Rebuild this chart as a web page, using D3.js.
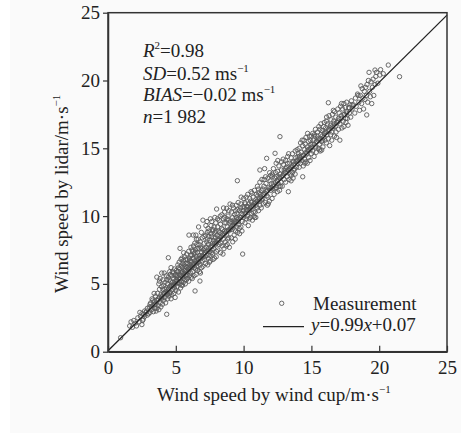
<!DOCTYPE html>
<html>
<head>
<meta charset="utf-8">
<script src="https://cdn.jsdelivr.net/npm/d3@7"></script>
<style>
  html, body { margin: 0; padding: 0; background: #ffffff; }
  svg { display: block; }
  text { font-family: "Liberation Serif", "Times New Roman", "DejaVu Serif", serif; fill: #222; }
</style>
</head>
<body>
<svg id="chart" width="461" height="437"></svg>
<script>
// ---- data ----
const axisTicks = [0, 5, 10, 15, 20, 25];
const fitSlope = 0.99;
const fitIntercept = 0.07;
const stats = { r2: "0.98", sd: "0.52", bias: "−0.02", n: "1 982" };

// [wind cup speed, lidar speed] pairs (m/s)
const measurements = [
[0.93,1.03],[1.6,1.9],[1.7,2.2],[1.8,1.8],[1.9,2.3],[2.0,2.1],[2.1,1.9],[2.2,2.5],
[2.3,2.2],[2.4,2.6],[2.5,2.0],[2.5,2.8],[2.6,2.4],[2.7,3.0],[2.7,2.6],[2.8,2.9],[2.9,2.7],[2.9,3.2],[3.0,2.8],[2.35,2.9],[2.55,2.3],[2.65,2.75],[2.85,3.0],
[3.05,3.3],[3.1,2.9],[3.15,3.6],[3.2,3.1],[3.25,3.9],[3.3,3.4],[3.35,2.95],[3.4,3.7],[3.45,3.2],[3.5,4.1],[3.5,3.5],[3.55,3.0],[3.6,3.8],[3.65,4.3],[3.7,3.4],[3.7,3.9],[3.75,3.1],[3.8,4.0],[3.8,4.6],[3.85,3.6],[3.9,4.2],[3.9,3.3],[3.95,4.8],[3.95,3.9],[3.6,3.2],[3.3,3.8],[3.1,3.5],[3.75,5.0],[3.85,5.4],[3.4,4.3],[3.6,5.5],[3.96,5.8],[3.8,5.2],
[4.0,4.1],[4.02,3.5],[4.05,4.6],[4.1,4.9],[4.1,3.8],[4.15,4.3],[4.2,5.1],[4.2,4.0],[4.25,3.6],[4.3,4.7],[4.3,5.6],[4.33,2.76],[4.35,4.2],[4.4,5.0],[4.4,3.9],[4.45,6.93],[4.45,4.6],[4.5,5.3],[4.5,4.1],[4.55,4.8],[4.55,5.9],[4.6,4.4],[4.6,5.2],[4.65,3.9],[4.65,4.9],[4.7,5.6],[4.7,4.2],[4.75,5.1],[4.75,4.6],[4.8,5.8],[4.8,4.9],[4.85,4.3],[4.85,5.4],[4.9,6.1],[4.9,4.7],[4.95,5.2],[4.95,4.0],[5.0,5.0],[5.0,5.7],[4.05,5.3],[4.15,5.8],[4.25,4.4],[4.35,5.3],[4.45,5.5],[4.55,4.3],[4.65,6.2],[4.75,5.9],[4.85,4.9],[4.95,5.6],[4.6,5.7],[4.4,4.3],[4.2,4.6],
[5.0,4.5],[5.05,5.3],[5.05,6.0],[5.1,4.8],[5.1,5.6],[5.15,6.4],[5.15,5.1],[5.2,4.4],[5.2,5.9],[5.25,5.4],[5.25,6.6],[5.3,5.0],[5.31,7.62],[5.3,6.1],[5.35,5.6],[5.35,4.7],[5.4,6.3],[5.4,5.2],[5.45,5.8],[5.45,6.9],[5.5,5.5],[5.5,4.9],[5.5,6.2],[5.55,6.7],[5.55,5.1],[5.6,5.7],[5.6,6.4],[5.65,5.3],[5.65,7.0],[5.7,6.0],[5.7,5.0],[5.75,6.5],[5.75,5.6],[5.8,6.2],[5.8,7.2],[5.85,5.4],[5.85,6.8],[5.9,5.9],[5.9,6.5],[5.95,5.2],[5.95,7.4],[6.0,6.1],[6.0,5.6],[5.12,5.9],[5.22,6.2],[5.32,5.4],[5.42,4.9],[5.52,6.5],[5.62,6.0],[5.72,6.8],[5.82,5.7],[5.92,6.3],[5.38,6.8],[5.58,7.3],[5.78,5.3],[5.98,6.7],[5.68,6.3],[5.48,5.9],[5.28,5.7],[5.08,5.5],
[6.42,4.48],[6.78,5.21],[5.97,8.6],[6.29,8.6],
[6.0,6.9],[6.05,6.4],[6.1,5.8],[6.1,7.1],[6.15,6.6],[6.15,5.5],[6.2,7.5],[6.2,6.2],[6.25,6.9],[6.25,5.9],[6.3,7.8],[6.3,6.4],[6.35,5.6],[6.35,7.2],[6.4,6.7],[6.4,8.0],[6.45,6.1],[6.45,7.5],[6.5,6.5],[6.5,5.7],[6.5,7.0],[6.55,7.9],[6.55,6.3],[6.6,7.3],[6.6,6.0],[6.65,6.9],[6.65,8.3],[6.7,6.6],[6.7,7.6],[6.75,5.9],[6.75,7.1],[6.8,6.4],[6.8,8.1],[6.85,6.9],[6.85,7.7],[6.9,6.2],[6.9,7.3],[6.95,6.7],[6.95,8.4],[7.0,7.0],[7.0,6.3],[6.12,7.7],[6.22,5.4],[6.32,6.9],[6.42,7.3],[6.52,8.3],[6.62,6.6],[6.72,7.9],[6.82,5.8],[6.92,7.6],[6.18,7.1],[6.38,6.2],[6.58,7.6],[6.78,6.9],[6.88,8.8],[6.48,8.6],[6.68,9.2],[6.28,7.4],[6.08,6.7],
[7.0,9.7],[7.05,7.5],[7.1,6.8],[7.1,8.0],[7.15,7.3],[7.2,8.6],[7.2,6.5],[7.25,7.7],[7.3,9.6],[7.3,7.1],[7.35,8.3],[7.4,6.9],[7.4,7.9],[7.45,8.9],[7.5,7.4],[7.5,8.2],[7.55,6.7],[7.6,7.8],[7.6,9.3],[7.65,8.5],[7.7,7.2],[7.7,8.0],[7.75,9.0],[7.8,7.6],[7.8,8.4],[7.85,6.9],[7.9,8.8],[7.9,7.9],[7.95,9.5],[8.0,8.1],[8.0,7.4],[7.08,8.5],[7.18,7.0],[7.28,8.1],[7.38,9.1],[7.48,6.6],[7.58,8.7],[7.68,7.5],[7.78,8.2],[7.88,9.9],[7.98,7.0],[7.12,7.6],[7.32,8.8],[7.52,7.1],[7.72,8.9],[7.92,8.4],[7.42,8.5],[7.62,7.3],[7.82,9.2],[7.22,9.3],[7.55,9.8],[7.75,6.8],[7.35,6.4],[7.95,8.9],[7.65,9.6],
[8.01,10.52],[8.05,8.6],[8.1,7.5],[8.1,9.2],[8.15,8.2],[8.2,9.7],[8.2,7.9],[8.25,8.8],[8.3,7.3],[8.3,9.4],[8.35,8.5],[8.4,10.1],[8.4,7.8],[8.45,9.0],[8.5,8.3],[8.5,9.8],[8.55,7.6],[8.6,8.9],[8.6,10.3],[8.65,8.1],[8.7,9.5],[8.75,10.57],[8.75,8.6],[8.8,7.9],[8.8,9.2],[8.85,10.0],[8.9,8.4],[8.9,9.7],[8.95,7.7],[9.0,10.89],[9.0,9.0],[8.08,9.8],[8.18,8.5],[8.28,10.0],[8.38,9.1],[8.48,7.2],[8.58,9.5],[8.68,8.8],[8.78,9.8],[8.88,8.9],[8.98,9.5],[8.12,8.9],[8.32,8.0],[8.52,10.6],[8.72,7.8],[8.92,10.4],[8.42,8.7],[8.62,9.9],[8.82,8.3],
[9.05,9.6],[9.1,8.4],[9.1,10.3],[9.15,9.0],[9.2,9.9],[9.2,8.1],[9.25,10.6],[9.3,9.3],[9.3,8.6],[9.35,10.1],[9.4,9.6],[9.4,8.9],[9.45,10.8],[9.5,9.2],[9.5,10.2],[9.54,12.61],[9.55,8.8],[9.6,9.8],[9.6,11.0],[9.65,9.4],[9.7,10.4],[9.7,8.7],[9.75,9.9],[9.8,10.9],[9.8,9.2],[9.85,10.2],[9.9,9.6],[9.93,7.2],[9.95,10.7],[10.0,9.9],[10.0,11.3],[9.08,9.2],[9.18,10.8],[9.28,9.7],[9.38,8.3],[9.48,9.9],[9.58,10.5],[9.68,9.1],[9.78,10.6],[9.88,8.9],[9.98,10.4],[9.22,9.5],[9.42,10.4],[9.62,9.6],[9.82,11.4],
[10.05,10.6],[10.1,9.5],[10.1,11.0],[10.15,10.2],[10.2,11.4],[10.2,9.8],[10.25,10.7],[10.3,10.0],[10.3,11.6],[10.35,9.3],[10.4,10.9],[10.4,10.4],[10.45,11.3],[10.5,9.9],[10.5,10.6],[10.55,11.8],[10.6,10.2],[10.6,11.0],[10.65,9.7],[10.7,11.4],[10.7,10.7],[10.75,10.0],[10.8,11.9],[10.8,10.9],[10.85,10.3],[10.9,11.2],[10.9,9.9],[10.95,11.6],[11.0,10.6],[11.0,11.1],[10.12,10.9],[10.32,10.7],[10.52,11.1],[10.72,10.3],[10.92,10.8],[10.42,9.8],[10.62,11.7],[10.82,9.9],[10.22,10.5],[11.02,12.2],
[11.05,11.5],[11.1,10.4],[11.1,12.0],[11.15,11.1],[11.2,10.8],[11.2,12.5],[11.2,13.4],[11.25,11.6],[11.3,10.6],[11.3,11.9],[11.35,12.7],[11.4,11.3],[11.45,10.9],[11.5,12.2],[11.5,11.6],[11.55,13.5],[11.6,11.0],[11.65,12.4],[11.7,14.26],[11.7,11.8],[11.75,10.8],[11.8,12.8],[11.8,11.4],[11.85,12.1],[11.9,11.1],[11.95,12.6],[12.0,11.9],[12.0,13.0],[11.12,11.7],[11.32,11.2],[11.52,12.7],[11.72,11.5],[11.92,13.2],[11.42,12.0],[11.62,12.9],[11.82,10.9],
[12.05,12.4],[12.1,11.3],[12.1,12.9],[12.15,12.0],[12.2,13.5],[12.2,12.2],[12.25,11.6],[12.3,12.8],[12.32,14.63],[12.35,13.2],[12.4,12.1],[12.4,13.9],[12.45,12.6],[12.5,11.8],[12.5,13.3],[12.55,12.4],[12.6,13.7],[12.6,12.9],[12.65,11.9],[12.68,15.86],[12.7,13.1],[12.75,12.5],[12.8,14.0],[12.8,13.4],[12.85,12.2],[12.9,13.0],[12.95,13.8],[13.0,12.7],[13.0,13.4],[12.12,13.1],[12.32,12.0],[12.52,14.1],[12.72,12.2],[12.92,14.2],[12.42,12.9],[12.62,12.2],
[13.05,13.2],[13.1,12.5],[13.1,14.1],[13.15,13.6],[13.2,12.9],[13.25,14.4],[13.3,11.8],[13.3,13.4],[13.35,12.7],[13.4,13.9],[13.45,13.1],[13.5,14.3],[13.5,12.6],[13.55,13.7],[13.6,14.6],[13.6,13.2],[13.65,12.8],[13.7,14.0],[13.75,13.5],[13.8,14.8],[13.8,13.1],[13.85,14.3],[13.9,13.6],[13.95,14.9],[14.0,13.9],[14.0,14.4],[13.12,13.5],[13.32,14.6],[13.52,13.0],[13.72,13.4],[13.92,14.1],[13.42,13.5],[13.62,14.0],[13.22,13.9],
[14.05,14.6],[14.1,13.6],[14.1,15.0],[14.15,14.2],[14.2,15.4],[14.2,13.9],[14.25,14.7],[14.3,14.1],[14.36,12.9],[14.35,15.2],[14.4,14.5],[14.4,13.7],[14.45,15.6],[14.5,14.9],[14.5,14.2],[14.55,15.3],[14.6,14.0],[14.6,15.8],[14.65,14.6],[14.7,15.1],[14.7,13.9],[14.75,14.8],[14.8,15.5],[14.8,14.3],[14.85,15.9],[14.9,14.9],[14.9,14.1],[14.95,15.3],[15.0,14.6],[15.0,15.9],[14.12,14.4],[14.32,15.6],[14.52,13.9],[14.72,16.1],[14.92,15.6],
[15.05,15.3],[15.1,14.8],[15.1,16.1],[15.15,15.6],[15.2,14.4],[15.25,15.9],[15.3,15.1],[15.3,16.4],[15.35,14.7],[15.4,15.5],[15.45,16.2],[15.5,15.0],[15.5,15.7],[15.55,16.6],[15.6,15.3],[15.65,14.8],[15.7,16.0],[15.7,16.8],[15.75,15.5],[15.76,14.87],[15.8,16.3],[15.85,15.1],[15.9,16.6],[15.9,15.8],[15.95,16.9],[16.0,15.6],[16.0,16.2],[15.22,16.0],[15.42,15.9],[15.62,16.4],[15.82,15.6],[15.6,14.9],
[16.05,16.5],[16.1,15.4],[16.1,17.0],[16.15,16.0],[16.2,16.8],[16.25,18.36],[16.25,15.7],[16.3,17.4],[16.3,16.3],[16.35,15.2],[16.4,16.7],[16.45,17.1],[16.5,16.2],[16.5,15.6],[16.55,17.5],[16.6,16.5],[16.65,17.0],[16.7,15.9],[16.7,17.7],[16.75,16.6],[16.8,17.3],[16.85,15.8],[16.9,16.9],[16.95,17.9],[17.0,16.4],[17.0,17.2],[16.12,17.3],[16.42,16.0],[16.62,17.8],[16.82,16.2],
[17.05,17.6],[17.1,15.6],[17.1,16.8],[17.15,18.1],[17.2,17.2],[17.25,16.5],[17.3,17.9],[17.35,17.0],[17.4,18.3],[17.4,16.6],[17.45,17.5],[17.5,18.0],[17.55,16.9],[17.6,17.7],[17.6,18.4],[17.65,17.2],[17.7,16.7],[17.75,18.0],[17.8,17.6],[17.85,18.2],[17.9,17.3],[17.95,18.5],[18.0,17.9],[17.22,18.3],[17.52,17.2],
[18.1,18.2],[18.2,17.6],[18.25,18.7],[18.3,18.1],[18.4,19.0],[18.5,18.4],[18.55,17.8],[18.6,18.9],[18.7,18.3],[18.75,19.4],[18.8,18.7],[18.85,17.9],[18.9,19.2],[18.95,18.6],[19.0,19.5],[18.65,19.6],[18.45,18.9],
[19.05,18.9],[19.1,19.7],[19.15,18.4],[19.2,20.0],[19.3,19.2],[19.35,18.8],[19.4,19.9],[19.5,19.5],[19.55,20.1],[19.6,18.9],[19.7,19.7],[19.69,20.77],[19.75,20.3],[19.8,20.6],[19.9,19.8],[20.05,20.4],[20.1,20.8],[20.3,20.5],[20.67,21.14],[21.5,20.28],[19.08,17.46],[19.45,18.3],[19.25,20.6],
// core points close to the fit line
[3.2,3.3],[3.45,3.5],[3.7,3.8],[3.95,4.0],[4.1,4.3],[4.3,4.4],[4.5,4.7],[4.7,4.8],[4.9,5.0],[5.1,5.2],[5.3,5.4],[5.45,5.6],[5.6,5.8],[5.75,5.9],[5.9,6.1],[6.05,6.2],[6.2,6.3],[6.35,6.5],[6.5,6.6],[6.65,6.8],[6.8,6.9],[6.95,7.1],[7.1,7.2],[7.25,7.4],[7.4,7.5],[7.55,7.7],[7.7,7.8],[7.85,8.0],[8.0,8.0],[8.15,8.3],[8.3,8.4],[8.45,8.6],[8.6,8.7],[8.75,8.9],[8.9,9.0],[9.05,9.1],[9.2,9.3],[9.35,9.5],[9.5,9.6],[9.65,9.8],[9.8,9.9],[9.95,10.1],[10.1,10.2],[10.25,10.4],[10.4,10.5],[10.55,10.7],[10.7,10.8],[10.85,11.0],[11.0,11.1],[11.15,11.3],[11.3,11.4],[11.45,11.6],[11.6,11.7],[11.75,11.9],[11.9,12.0],[12.05,12.1],[12.2,12.3],[12.35,12.5],[12.5,12.6],[12.65,12.8],[12.8,12.9],[12.95,13.1],[13.1,13.2],[13.25,13.4],[13.4,13.5],[13.55,13.6],[13.7,13.8],[13.85,14.0],[14.0,14.1],[14.15,14.3],[14.3,14.4],[14.45,14.5],[14.6,14.7],[14.75,14.9],[14.9,15.0],[15.05,15.1],[15.2,15.3],[15.35,15.5],[15.5,15.6],[15.65,15.7],[15.8,15.9],[15.95,16.1],[16.1,16.2],[16.25,16.4],[16.4,16.5],[16.55,16.6],[16.7,16.8],[16.85,16.9],[17.0,17.0],[17.2,17.4],[17.4,17.5],[17.6,17.6],[17.8,18.0],[18.0,18.2]
];

// ---- drawing ----
const svg = d3.select("#chart");
svg.append("rect").attr("x", 10).attr("y", 0).attr("width", 451).attr("height", 433).attr("fill", "#fafafa");

const x = d3.scaleLinear().domain([0, 25]).range([108, 447]);
const y = d3.scaleLinear().domain([0, 25]).range([351.7, 12.7]);

// points
svg.append("g").selectAll("circle").data(measurements).join("circle")
  .attr("cx", d => x(d[0])).attr("cy", d => y(d[1])).attr("r", 2.2)
  .attr("fill", "none").attr("stroke", "#5a5a5a").attr("stroke-width", 0.9);

// fit line
const fitLine = d3.line().x(d => x(d)).y(d => y(fitSlope * d + fitIntercept));
svg.append("path").datum([0, 25]).attr("d", fitLine)
  .attr("stroke", "#222").attr("stroke-width", 1.3).attr("fill", "none");

// frame
svg.append("rect").attr("x", x(0)).attr("y", y(25)).attr("width", x(25) - x(0)).attr("height", y(0) - y(25))
  .attr("fill", "none").attr("stroke", "#333").attr("stroke-width", 1.5);

// axes
const gx = svg.append("g").attr("transform", `translate(0,${y(0)})`)
  .call(d3.axisBottom(x).tickValues(axisTicks).tickSizeInner(-6).tickSizeOuter(0).tickPadding(9));
const gy = svg.append("g").attr("transform", `translate(${x(0)},0)`)
  .call(d3.axisLeft(y).tickValues(axisTicks).tickSizeInner(5).tickSizeOuter(0).tickPadding(3));
[gx, gy].forEach(g => {
  g.attr("font-family", null);
  g.select(".domain").attr("stroke", "#333").attr("stroke-width", 1.5);
  g.selectAll(".tick line").attr("stroke", "#333").attr("stroke-width", 1.2);
  g.selectAll(".tick text").attr("font-size", 19).attr("fill", "#222");
});

// axis titles
function sup(t, base, s) {
  t.append("tspan").text(base);
  t.append("tspan").attr("dy", -8).attr("font-size", 11).text(s);
}
const xt = svg.append("text").attr("x", 157).attr("y", 401).attr("font-size", 19);
sup(xt, "Wind speed by wind cup/m·s", "−1");
const yt = svg.append("text").attr("transform", "translate(68,293) rotate(-90)").attr("font-size", 19);
sup(yt, "Wind speed by lidar/m·s", "−1");

// stats annotation
const ax = 143;
const t1 = svg.append("text").attr("x", ax).attr("y", 57).attr("font-size", 19);
t1.append("tspan").attr("font-style", "italic").text("R");
t1.append("tspan").attr("dy", -8).attr("font-size", 11).text("2");
t1.append("tspan").attr("dy", 8).text("=" + stats.r2);
const t2 = svg.append("text").attr("x", ax).attr("y", 79.5).attr("font-size", 19);
t2.append("tspan").attr("font-style", "italic").text("SD");
t2.append("tspan").text("=" + stats.sd + " ms");
t2.append("tspan").attr("dy", -8).attr("font-size", 11).text("−1");
const t3 = svg.append("text").attr("x", ax).attr("y", 101).attr("font-size", 19);
t3.append("tspan").attr("font-style", "italic").text("BIAS");
t3.append("tspan").text("=" + stats.bias + " ms");
t3.append("tspan").attr("dy", -8).attr("font-size", 11).text("−1");
const t4 = svg.append("text").attr("x", ax).attr("y", 122.5).attr("font-size", 19);
t4.append("tspan").attr("font-style", "italic").text("n");
t4.append("tspan").text("=" + stats.n);

// legend
svg.append("circle").attr("cx", 281.7).attr("cy", 303.3).attr("r", 2.2)
  .attr("fill", "none").attr("stroke", "#5a5a5a").attr("stroke-width", 0.9);
svg.append("text").attr("x", 313).attr("y", 310).attr("font-size", 19).text("Measurement");
svg.append("line").attr("x1", 263).attr("x2", 304).attr("y1", 326.7).attr("y2", 326.7)
  .attr("stroke", "#222").attr("stroke-width", 1.3);
const lg = svg.append("text").attr("x", 311).attr("y", 331).attr("font-size", 19);
lg.append("tspan").attr("font-style", "italic").text("y");
lg.append("tspan").text("=" + fitSlope + "");
lg.append("tspan").attr("font-style", "italic").text("x");
lg.append("tspan").text("+" + fitIntercept);
</script>
</body>
</html>
